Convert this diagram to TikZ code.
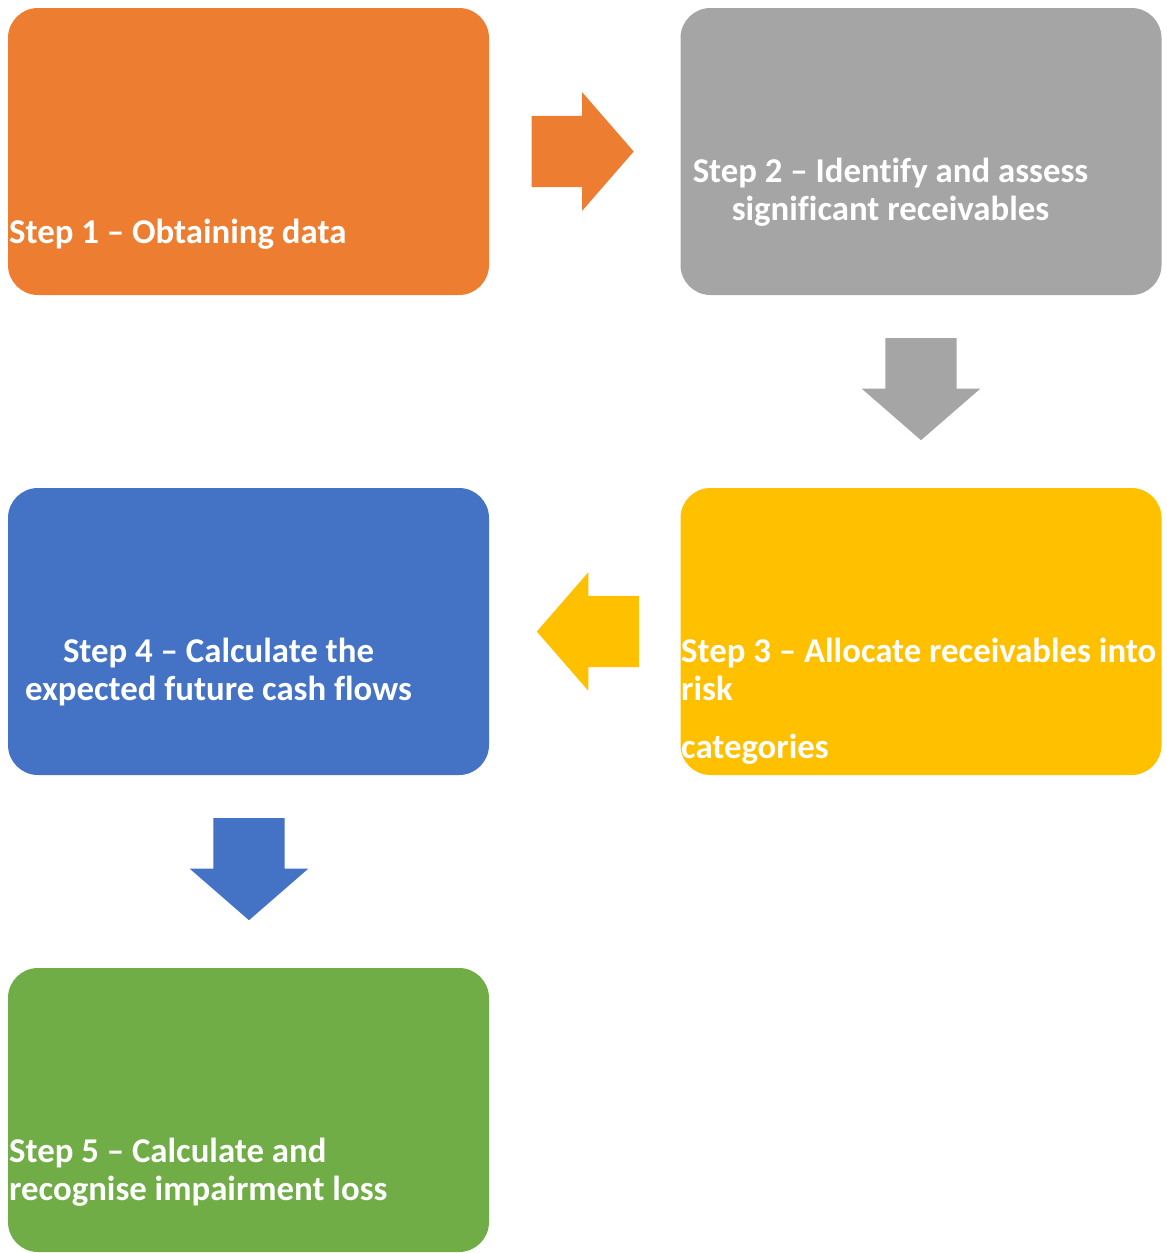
\documentclass[tikz,border=0pt]{standalone}
\usepackage{fontspec}
\setmainfont[Ligatures=NoCommon]{Carlito}
\usetikzlibrary{shapes.arrows}

\definecolor{stepone}{HTML}{ED7D31}
\definecolor{steptwo}{HTML}{A5A5A5}
\definecolor{stepthree}{HTML}{FFC000}
\definecolor{stepfour}{HTML}{4472C4}
\definecolor{stepfive}{HTML}{70AD47}

\begin{document}
\begin{tikzpicture}[x=1pt,y=-1pt,
	box/.style={rectangle,rounded corners=30pt,minimum width=481pt,minimum height=287pt,inner sep=0pt},
	arr/.style={single arrow,anchor=tail,minimum height=102pt,inner xsep=0pt,inner ysep=35.5pt,
		single arrow head extend=23.5pt,single arrow tip angle=98},
	downarr/.style={arr,inner xsep=35.5pt,inner ysep=0pt,shape border rotate=270},
	txt/.style={text=white,inner sep=0pt,font=\fontsize{34.8}{38}\selectfont\bfseries}]
	\useasboundingbox (0,0) rectangle (1167,1253);
	\node[box,fill=stepone] (b1) at (248.5,151.5) {};
	\node[box,fill=steptwo] (b2) at (921,151.5) {};
	\node[box,fill=stepthree] (b3) at (921,631.5) {};
	\node[box,fill=stepfour] (b4) at (248.5,631.5) {};
	\node[box,fill=stepfive,minimum height=284pt] (b5) at (248.5,1110) {};
	\node[arr,fill=stepone] (a1) at (531.5,151.5) {};
	\node[downarr,fill=steptwo] (a2) at (921,338) {};
	\node[arr,fill=stepthree,shape border rotate=180] (a3) at (639,631.5) {};
	\node[downarr,fill=stepfour] (a4) at (249,818) {};
	\node[txt,anchor=base west] (t1) at (9,243) {Step 1 – Obtaining data};
	\node[txt,anchor=base] (t2a) at (890.5,182) {Step 2 – Identify and assess};
	\node[txt,anchor=base] (t2b) at (890.5,220) {significant receivables};
	\node[txt,anchor=base west] (t3a) at (681,662) {Step 3 – Allocate receivables into};
	\node[txt,anchor=base west] (t3b) at (681,700) {risk};
	\node[txt,anchor=base west] (t3c) at (681,758) {categories};
	\node[txt,anchor=base] (t4a) at (218.5,662) {Step 4 – Calculate the};
	\node[txt,anchor=base] (t4b) at (218.5,700) {expected future cash flows};
	\node[txt,anchor=base west] (t5a) at (9,1162) {Step 5 – Calculate and};
	\node[txt,anchor=base west] (t5b) at (9,1200) {recognise impairment loss};
\end{tikzpicture}
\end{document}
